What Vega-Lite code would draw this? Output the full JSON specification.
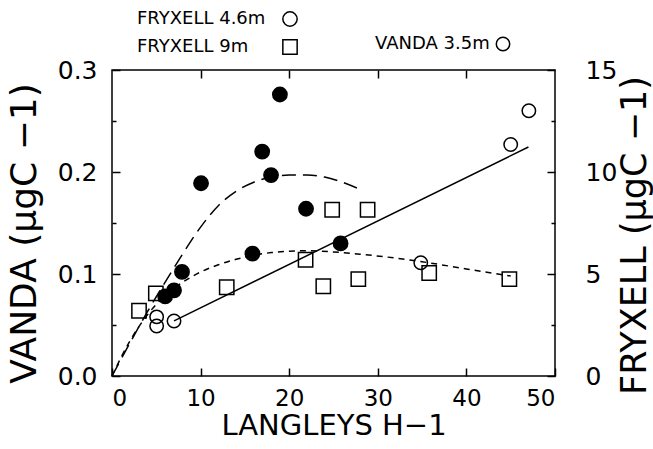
{
"$schema": "https://vega.github.io/schema/vega-lite/v6.json",
"width": 443, "height": 306,
"autosize": {"type": "none"},
"padding": {"left": 112, "top": 70, "right": 98, "bottom": 73},
"background": "white",
"config": {
  "view": {"stroke": "black", "strokeWidth": 1.5},
  "font": "DejaVu Sans",
  "axis": {"domain": false, "grid": false, "tickColor": "black", "tickWidth": 1.5, "labelColor": "black", "titleColor": "black", "labelFont": "DejaVu Sans", "titleFont": "DejaVu Sans", "titleFontWeight": "normal"},
  "legend": {"padding": 0, "labelFont": "DejaVu Sans", "labelColor": "black", "labelFontSize": 18, "symbolStrokeColor": "black", "symbolBaseStrokeColor": "black", "symbolStrokeWidth": 1.5}
},
"datasets": {
  "vanda": [
    {"x": 5.04, "y": 0.058, "series": "VANDA 3.5m"},
    {"x": 5.04, "y": 0.049, "series": "VANDA 3.5m"},
    {"x": 7.0, "y": 0.054, "series": "VANDA 3.5m"},
    {"x": 34.85, "y": 0.111, "series": "VANDA 3.5m"},
    {"x": 45.0, "y": 0.227, "series": "VANDA 3.5m"},
    {"x": 47.05, "y": 0.26, "series": "VANDA 3.5m"}
  ],
  "vandaFit": [
    {"x": 7.0, "y": 0.054},
    {"x": 47.0, "y": 0.2245}
  ],
  "fryx": [
    {"x": 6.0, "y": 3.9, "series": "FRYXELL 4.6m"},
    {"x": 7.0, "y": 4.2, "series": "FRYXELL 4.6m"},
    {"x": 7.9, "y": 5.1, "series": "FRYXELL 4.6m"},
    {"x": 10.05, "y": 9.45, "series": "FRYXELL 4.6m"},
    {"x": 15.85, "y": 6.0, "series": "FRYXELL 4.6m"},
    {"x": 16.95, "y": 11.0, "series": "FRYXELL 4.6m"},
    {"x": 17.95, "y": 9.85, "series": "FRYXELL 4.6m"},
    {"x": 18.95, "y": 13.8, "series": "FRYXELL 4.6m"},
    {"x": 21.9, "y": 8.2, "series": "FRYXELL 4.6m"},
    {"x": 25.8, "y": 6.5, "series": "FRYXELL 4.6m"},
    {"x": 3.05, "y": 3.2, "series": "FRYXELL 9m"},
    {"x": 4.95, "y": 4.05, "series": "FRYXELL 9m"},
    {"x": 12.95, "y": 4.35, "series": "FRYXELL 9m"},
    {"x": 21.85, "y": 5.7, "series": "FRYXELL 9m"},
    {"x": 23.85, "y": 4.4, "series": "FRYXELL 9m"},
    {"x": 24.85, "y": 8.15, "series": "FRYXELL 9m"},
    {"x": 27.8, "y": 4.75, "series": "FRYXELL 9m"},
    {"x": 28.85, "y": 8.15, "series": "FRYXELL 9m"},
    {"x": 35.8, "y": 5.05, "series": "FRYXELL 9m"},
    {"x": 44.85, "y": 4.75, "series": "FRYXELL 9m"}
  ],
  "fit46": [
    {"x": 0, "y": 0}, {"x": 2, "y": 1.6}, {"x": 4, "y": 3.15}, {"x": 6, "y": 4.6},
    {"x": 8, "y": 6.0}, {"x": 10, "y": 7.3}, {"x": 12, "y": 8.35}, {"x": 14, "y": 9.05},
    {"x": 16, "y": 9.5}, {"x": 18, "y": 9.75}, {"x": 20, "y": 9.85}, {"x": 22, "y": 9.85},
    {"x": 24, "y": 9.75}, {"x": 26, "y": 9.5}, {"x": 28, "y": 9.15}
  ],
  "fit9": [
    {"x": 0, "y": 0}, {"x": 2, "y": 1.7}, {"x": 4, "y": 3.0}, {"x": 6, "y": 3.95},
    {"x": 8, "y": 4.6}, {"x": 10, "y": 5.1}, {"x": 12, "y": 5.45}, {"x": 14, "y": 5.72},
    {"x": 16, "y": 5.92}, {"x": 18, "y": 6.05}, {"x": 20, "y": 6.12}, {"x": 22, "y": 6.14},
    {"x": 25, "y": 6.08}, {"x": 28, "y": 5.97}, {"x": 32, "y": 5.78}, {"x": 35, "y": 5.6},
    {"x": 40, "y": 5.25}, {"x": 45, "y": 4.9}
  ]
},
"layer": [
  {
    "layer": [
      {
        "data": {"name": "vandaFit"},
        "mark": {"type": "line", "color": "black", "strokeWidth": 1.5},
        "encoding": {
          "x": {"field": "x", "type": "quantitative", "scale": {"domain": [0, 50], "nice": false},
            "axis": {"orient": "bottom", "values": [0, 10, 20, 30, 40, 50], "tickSize": -8, "labelPadding": 19, "labelFontSize": 23, "title": "LANGLEYS H−1", "titleFontSize": 29, "titlePadding": 1}},
          "y": {"field": "y", "type": "quantitative", "scale": {"domain": [0, 0.3], "nice": false},
            "axis": {"orient": "left", "values": [0, 0.05, 0.1, 0.15, 0.2, 0.25, 0.3],
              "labelExpr": "round(datum.value*100) % 10 == 0 ? format(datum.value, '.1f') : ''",
              "tickSize": {"condition": {"test": "round(datum.value*100) % 10 == 0", "value": -8}, "value": -4},
              "labelPadding": 23, "labelFontSize": 25, "title": "VANDA (μgC −1)", "titleFontSize": 36, "titlePadding": 14, "titleY": 163}}
        }
      },
      {
        "data": {"name": "vanda"},
        "mark": {"type": "point", "filled": false, "color": "black", "strokeWidth": 1.5, "size": 180, "opacity": 1},
        "encoding": {
          "x": {"field": "x", "type": "quantitative"},
          "y": {"field": "y", "type": "quantitative"},
          "shape": {"field": "series", "type": "nominal", "scale": {"domain": ["VANDA 3.5m"], "range": ["circle"]},
            "legend": {"title": null, "orient": "none", "legendX": 247, "legendY": -35, "symbolOffset": 135, "labelOffset": -137, "symbolSize": 180, "symbolStrokeColor": "black", "symbolStrokeWidth": 1.5, "labelLimit": 0}}
        }
      }
    ]
  },
  {
    "layer": [
      {
        "data": {"name": "fit46"},
        "mark": {"type": "line", "color": "black", "strokeWidth": 1.5, "strokeDash": [14, 7], "interpolate": "monotone"},
        "encoding": {
          "x": {"field": "x", "type": "quantitative", "scale": {"domain": [0, 50], "nice": false},
            "axis": {"orient": "top", "values": [10, 20, 30, 40], "tickSize": -8, "labels": false, "title": null}},
          "y": {"field": "y", "type": "quantitative", "scale": {"domain": [0, 15], "nice": false},
            "axis": {"orient": "right", "values": [0, 2.5, 5, 7.5, 10, 12.5, 15],
              "labelExpr": "datum.value % 5 == 0 ? format(datum.value, 'd') : ''",
              "tickSize": {"condition": {"test": "datum.value % 5 == 0", "value": -8}, "value": -4},
              "labelPadding": 38, "labelFontSize": 25, "title": "FRYXELL (μgC −1)", "titleAngle": 270, "titleFontSize": 35, "titlePadding": 36, "titleY": 165}}
        }
      },
      {
        "data": {"name": "fit9"},
        "mark": {"type": "line", "color": "black", "strokeWidth": 1.5, "strokeDash": [6, 5], "interpolate": "monotone"},
        "encoding": {
          "x": {"field": "x", "type": "quantitative"},
          "y": {"field": "y", "type": "quantitative"}
        }
      },
      {
        "data": {"name": "fryx"},
        "mark": {"type": "point", "filled": false, "color": "black", "strokeWidth": 1.5, "size": 205, "opacity": 1},
        "encoding": {
          "x": {"field": "x", "type": "quantitative"},
          "y": {"field": "y", "type": "quantitative"},
          "fill": {"condition": {"test": "datum.series === 'FRYXELL 4.6m'", "value": "black"}, "value": "transparent"},
          "shape": {"field": "series", "type": "nominal", "scale": {"domain": ["FRYXELL 4.6m", "FRYXELL 9m"], "range": ["circle", "square"]},
            "legend": {"title": null, "orient": "none", "legendX": 3, "legendY": -60, "direction": "vertical", "rowPadding": 6, "symbolOffset": 166, "labelOffset": -162, "symbolSize": 205, "symbolStrokeColor": "black", "symbolStrokeWidth": 1.5, "labelLimit": 0,
              "encode": {"symbols": {"fill": {"condition": {"test": "datum.value === 'FRYXELL 4.6m'", "value": "black"}, "value": "transparent"}, "stroke": {"value": "black"}, "strokeWidth": {"value": 1.5}}}}}
        }
      }
    ]
  }
],
"resolve": {"scale": {"y": "independent", "shape": "independent"}, "axis": {"x": "independent"}}
}
